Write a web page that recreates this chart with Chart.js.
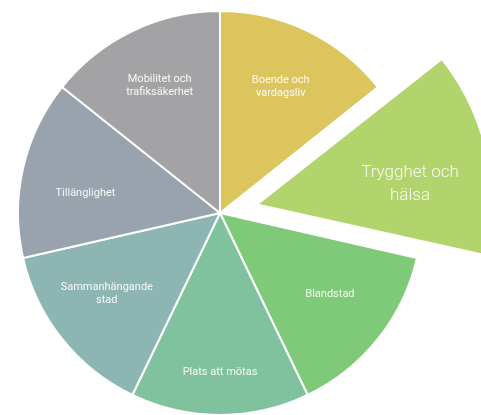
<!DOCTYPE html>
<html>
<head>
<meta charset="utf-8">
<script src="https://cdn.jsdelivr.net/npm/chart.js@4/dist/chart.umd.min.js"></script>
<style>
  html, body { margin: 0; padding: 0; background: #ffffff; }
  canvas { display: block; }
</style>
</head>
<body>
<canvas id="c" width="481" height="415"></canvas>
<script>
// Data
const categories = [
  ["Boende och", "vardagsliv"],
  ["Trygghet och", "hälsa"],
  ["Blandstad"],
  ["Plats att mötas"],
  ["Sammanhängande", "stad"],
  ["Tillänglighet"],
  ["Mobilitet och", "trafiksäkerhet"]
];
const values = [1, 1, 1, 1, 1, 1, 1];
const highlighted = [false, true, false, false, false, false, false];

// Styles
const colors = ["#DDC55D", "#B2D46C", "#7FCA79", "#80C29D", "#8DB6B2", "#98A3AD", "#A3A3A5"];
const labelPlacement = [
  { r: 0.693, da: 0.0 },
  { r: 0.764, da: 5.3 },
  { r: 0.676, da: -2.2 },
  { r: 0.787, da: 0.0 },
  { r: 0.688, da: 3.1 },
  { r: 0.673, da: -4.6 },
  { r: 0.698, da: 0.4 }
];
const BASE_RADIUS = 202;
const EXPLODE = 152;       // Chart.js translates the slice by offset/4
const HIGHLIGHT_SCALE = 1.124; // enlarged outer radius of the highlighted slice

const enlargeHighlighted = {
  id: 'enlargeHighlighted',
  afterDatasetsUpdate(chart) {
    const meta = chart.getDatasetMeta(0);
    meta.data.forEach((el, i) => {
      if (highlighted[i]) el.outerRadius = el.outerRadius * HIGHLIGHT_SCALE;
    });
  }
};

const sliceLabels = {
  id: 'sliceLabels',
  afterDatasetsDraw(chart) {
    const meta = chart.getDatasetMeta(0);
    const ctx = chart.ctx;
    ctx.save();
    ctx.textAlign = 'center';
    ctx.textBaseline = 'middle';
    ctx.fillStyle = 'rgba(255,255,255,0.92)';
    meta.data.forEach((el, i) => {
      const p = el.getProps(['x', 'y', 'startAngle', 'endAngle'], true);
      const mid = (p.startAngle + p.endAngle) / 2;
      const off = (el.options.offset || 0) / 4;
      const cx = p.x + Math.cos(mid) * off;
      const cy = p.y + Math.sin(mid) * off;
      const place = labelPlacement[i];
      const a = mid + place.da * Math.PI / 180;
      const rr = BASE_RADIUS * place.r;
      const lx = cx + Math.cos(a) * rr;
      const ly = cy + Math.sin(a) * rr;
      const lines = categories[i];
      const big = highlighted[i];
      const fs = big ? 17 : 11;
      const lh = big ? 23 : 13.4;
      ctx.font = (big ? '300 ' : '400 ') + fs + 'px Roboto, "Noto Sans", sans-serif';
      lines.forEach((t, k) => {
        ctx.fillText(t, lx, ly + (k - (lines.length - 1) / 2) * lh);
      });
    });
    ctx.restore();
  }
};

new Chart(document.getElementById('c'), {
  type: 'pie',
  data: {
    labels: categories.map(l => l.join(' ')),
    datasets: [{
      data: values,
      backgroundColor: colors,
      borderColor: '#ffffff',
      borderWidth: 2,
      offset: highlighted.map(h => h ? EXPLODE : 0),
      hoverOffset: 0
    }]
  },
  options: {
    responsive: false,
    animation: false,
    radius: BASE_RADIUS,
    rotation: 0,
    layout: { padding: { left: 0, right: 41, top: 11, bottom: 0 } },
    plugins: {
      legend: { display: false },
      tooltip: { enabled: false }
    },
    events: []
  },
  plugins: [enlargeHighlighted, sliceLabels]
});
</script>
</body>
</html>
